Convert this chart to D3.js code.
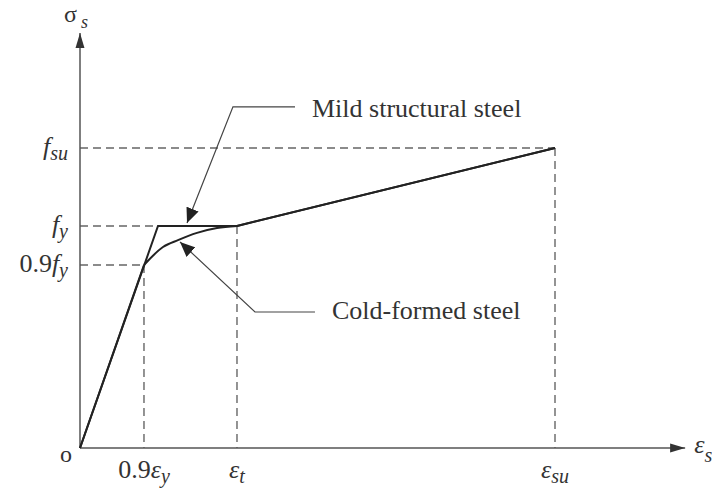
<!DOCTYPE html>
<html>
<head>
<meta charset="utf-8">
<script src="https://cdn.jsdelivr.net/npm/d3@7"></script>
<style>
  body { margin: 0; background: #fff; }
  svg { display: block; }
  text { font-family: "Liberation Serif", "Times New Roman", serif; fill: #333; }
  .curve { fill: none; stroke: #222; stroke-width: 2; }
  .axis-line { stroke: #555; stroke-width: 1.5; }
  .guide { stroke: #666; stroke-width: 1.4; stroke-dasharray: 8 5; fill: none; }
  .leader { stroke: #444; stroke-width: 1.2; fill: none; }
</style>
</head>
<body>
<svg id="chart" width="712" height="490"></svg>
<script>
// strain / stress in relative units (eps_su = 1, f_su = 1)
var mildStrain = [0, 0.1642, 0.3305, 1];
var mildStress = [0, 0.74, 0.74, 1];

var coldStrain = [0, 0.1347, 0.1747, 0.2063, 0.2463, 0.2884, 0.3305, 1];
var coldStress = [0, 0.61, 0.67, 0.693, 0.717, 0.733, 0.74, 1];

// characteristic points on the axes
var strainTicks = [0.1347, 0.3305, 1];
var strainLabels = [["0.9", "ε", "y"], ["", "ε", "t"], ["", "ε", "su"]];
var strainTop = [0.61, 0.74, 1];

var stressTicks = [1, 0.74, 0.61];
var stressLabels = [["", "f", "su"], ["", "f", "y"], ["0.9", "f", "y"]];
var stressEnd = [1, 0.1642, 0.1347];

var svg = d3.select("#chart");

var x = d3.scaleLinear().domain([0, 1]).range([80, 555]);
var y = d3.scaleLinear().domain([0, 1]).range([448, 148]);

var xMax = 1.274, yMax = 1.383;

var defs = svg.append("defs");
defs.append("marker")
    .attr("id", "axisArrow")
    .attr("markerUnits", "userSpaceOnUse")
    .attr("markerWidth", 16).attr("markerHeight", 10)
    .attr("refX", 15).attr("refY", 5)
    .attr("orient", "auto")
    .append("path").attr("d", "M0,0.5 L15,5 L0,9.5 Z").attr("fill", "#333");
defs.append("marker")
    .attr("id", "leadArrow")
    .attr("markerUnits", "userSpaceOnUse")
    .attr("markerWidth", 16).attr("markerHeight", 14)
    .attr("refX", 15).attr("refY", 7)
    .attr("orient", "auto")
    .append("path").attr("d", "M0,0.5 L15,7 L0,13.5 Z").attr("fill", "#222");

// guide lines (dashed)
var guides = svg.append("g");
strainTicks.forEach(function(s, i) {
    guides.append("line").attr("class", "guide")
        .attr("x1", x(s)).attr("x2", x(s))
        .attr("y1", y(strainTop[i])).attr("y2", y(0));
});
stressTicks.forEach(function(s, i) {
    guides.append("line").attr("class", "guide")
        .attr("x1", x(0)).attr("x2", x(stressEnd[i]))
        .attr("y1", y(s)).attr("y2", y(s));
});

// axes
svg.append("line").attr("class", "axis-line")
    .attr("x1", x(0)).attr("y1", y(0)).attr("x2", x(xMax)).attr("y2", y(0))
    .attr("marker-end", "url(#axisArrow)");
svg.append("line").attr("class", "axis-line")
    .attr("x1", x(0)).attr("y1", y(0)).attr("x2", x(0)).attr("y2", y(yMax))
    .attr("marker-end", "url(#axisArrow)");

// curves
var mild = mildStrain.map((d, i) => [d, mildStress[i]]);
var cold = coldStrain.map((d, i) => [d, coldStress[i]]);

var line = d3.line().x(d => x(d[0])).y(d => y(d[1]));
var smooth = d3.line().x(d => x(d[0])).y(d => y(d[1])).curve(d3.curveMonotoneX);

svg.append("path").attr("class", "curve").attr("d", line(mild));
// cold-formed: elastic part and hardening part are straight, the knee is rounded
svg.append("path").attr("class", "curve").attr("d", line(cold.slice(0, 2)));
svg.append("path").attr("class", "curve").attr("d", smooth(cold.slice(1, cold.length - 1)));
svg.append("path").attr("class", "curve").attr("d", line(cold.slice(cold.length - 2)));

// tick labels on strain axis
strainTicks.forEach(function(s, i) {
    var lab = strainLabels[i];
    var t = svg.append("text")
        .attr("x", x(s)).attr("y", y(0) + 30)
        .attr("text-anchor", "middle")
        .style("font-size", "26px");
    if (lab[0]) t.append("tspan").text(lab[0]);
    t.append("tspan").style("font-style", "italic").text(lab[1]);
    t.append("tspan").style("font-style", "italic").style("font-size", "20px")
        .attr("dy", 5).text(lab[2]);
});

// tick labels on stress axis
stressTicks.forEach(function(s, i) {
    var lab = stressLabels[i];
    var t = svg.append("text")
        .attr("x", x(0) - 12).attr("y", y(s) + 7)
        .attr("text-anchor", "end")
        .style("font-size", "26px");
    if (lab[0]) t.append("tspan").text(lab[0]);
    t.append("tspan").style("font-style", "italic").text(lab[1]);
    t.append("tspan").style("font-style", "italic").style("font-size", "20px")
        .attr("dy", 5).text(lab[2]);
});

// origin
svg.append("text").attr("x", x(0) - 8).attr("y", y(0) + 14)
    .attr("text-anchor", "end").style("font-size", "24px").text("o");

// axis titles
var ex = svg.append("text").attr("x", x(xMax) + 9).attr("y", y(0) + 5)
    .style("font-size", "26px");
ex.append("tspan").style("font-style", "italic").text("ε");
ex.append("tspan").style("font-style", "italic").style("font-size", "20px").attr("dy", 9).text("s");

var sy = svg.append("text").attr("x", x(0) - 16).attr("y", y(yMax) - 11)
    .style("font-size", "24px");
sy.append("tspan").text("σ");
sy.append("tspan").style("font-style", "italic").style("font-size", "18px").attr("dx", 4).attr("dy", 6).text("s");

// annotations: leader points [tip, elbow, end], text anchor
var notes = [
    { label: "Mild structural steel", pts: [[0.2253, 0.75], [0.322, 1.137], [0.4526, 1.137]], tx: 0.4884, ty: 1.103 },
    { label: "Cold-formed steel", pts: [[0.2105, 0.687], [0.3684, 0.4533], [0.4947, 0.4533]], tx: 0.5305, ty: 0.43 }
];

notes.forEach(function(n) {
    var p = n.pts.slice().reverse();
    svg.append("path").attr("class", "leader")
        .attr("d", line(p))
        .attr("marker-end", "url(#leadArrow)");
    svg.append("text").attr("x", x(n.tx)).attr("y", y(n.ty))
        .style("font-size", "26px").text(n.label);
});
</script>
</body>
</html>
